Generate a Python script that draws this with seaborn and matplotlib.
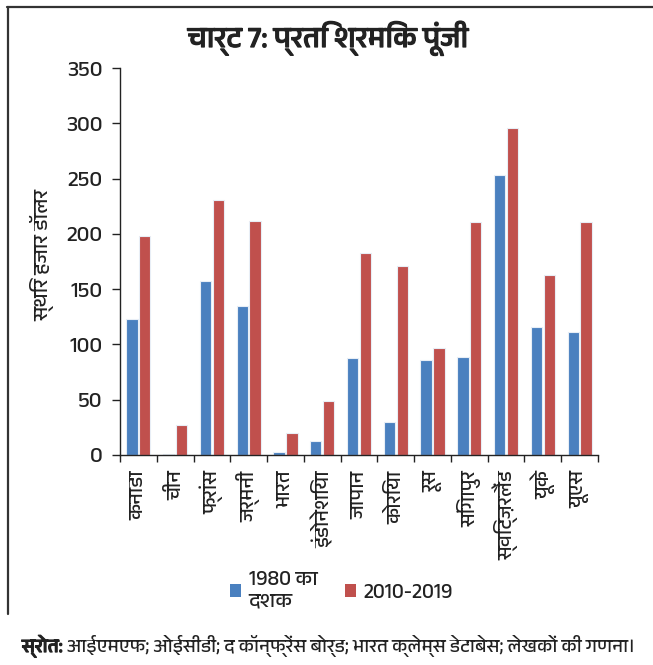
import matplotlib
matplotlib.use("Agg")
import matplotlib.pyplot as plt
from matplotlib import font_manager
from matplotlib.patches import Patch
from matplotlib.lines import Line2D
import matplotlib.patheffects as pe
import seaborn as sns
import pandas as pd
import numpy as np

countries = ['कनाडा', 'चीन', 'फ्रांस', 'जर्मनी', 'भारत', 'इंडोनेशिया', 'जापान',
             'कोरिया', 'रूस', 'सिंगापुर', 'स्विट्ज़रलैंड', 'यूके', 'यूएस']
capital_1980s = [123, 1, 157, 135, 3, 13, 88, 30, 86, 89, 253, 116, 111]
capital_2010s = [198, 27, 231, 212, 20, 49, 183, 171, 97, 211, 296, 163, 211]
series_names = ['1980 का\nदशक', '2010-2019']
yticks = [0, 50, 100, 150, 200, 250, 300, 350]

title = 'चार्ट 7: प्रति श्रमिक पूंजी'
ylabel = 'स्थिर हजार डॉलर'
source_head = 'स्रोत:'
source_body = ' आईएमएफ; ओईसीडी; द कॉन्फ्रेंस बोर्ड; भारत क्लेम्स डेटाबेस; लेखकों की गणना।'

INK = '#222222'


def devanagari_family():
    """Pick an installed family that covers Devanagari glyphs."""
    try:
        from fontTools.ttLib import TTFont
    except Exception:
        TTFont = None
    best = None
    for f in font_manager.fontManager.ttflist:
        if 'devanagari' in f.name.lower():
            return f.name
    if TTFont is not None:
        for f in font_manager.fontManager.ttflist:
            try:
                cmap = TTFont(f.fname, fontNumber=0, lazy=True).getBestCmap()
            except Exception:
                continue
            if cmap and 0x0915 in cmap and 0x093F in cmap:
                best = f.name
                if 'noto' in f.name.lower():
                    return best
    return best or 'Noto Sans'


sns.set_theme(style='white')
fam = devanagari_family()
plt.rcParams['font.family'] = [fam, 'DejaVu Sans']

# stroke effect to thicken headings
heavy = [pe.withStroke(linewidth=0.9, foreground=INK)]

df = pd.DataFrame({
    'country': countries * 2,
    'value': capital_1980s + capital_2010s,
    'period': [series_names[0]] * len(countries) + [series_names[1]] * len(countries),
})

fig = plt.figure(figsize=(6.53, 6.65), dpi=100)
ax = fig.add_axes([120 / 653, 1 - 455 / 665, (598 - 120) / 653, (455 - 68) / 665])

palette = {series_names[0]: '#4A80BF', series_names[1]: '#C0504D'}
sns.barplot(data=df, x='country', y='value', hue='period', palette=palette,
            width=0.70, gap=0.12, edgecolor='#e8eef6', linewidth=0.8,
            saturation=1, ax=ax, legend=False)

ax.set_ylim(0, 350)
ax.set_yticks(yticks)
ax.set_xlim(-0.5, len(countries) - 0.5)
ax.set_xlabel('')
ax.set_ylabel(ylabel, fontsize=15, color=INK)
ax.yaxis.set_label_coords(-(120 - 54) / 478, (455 - 255) / 387)
for s in ['top', 'right']:
    ax.spines[s].set_visible(False)
for s in ['left', 'bottom']:
    ax.spines[s].set_color(INK)
    ax.spines[s].set_linewidth(1.0)

ax.tick_params(axis='y', direction='out', length=5.5, width=1, color=INK,
               labelsize=16, labelcolor=INK, left=True, pad=7)
ax.set_xticks(range(len(countries)))
ax.set_xticklabels(countries, rotation=90, fontsize=14.5, color=INK)
ax.tick_params(axis='x', which='major', length=0, pad=11)
ax.set_xticks(np.arange(-0.5, len(countries), 1.0), minor=True)
ax.tick_params(axis='x', which='minor', direction='out', length=5, width=1,
               color=INK, bottom=True)

fig.text(328 / 653, 1 - 38 / 665, title, ha='center', va='center',
         fontsize=21, fontweight='bold', color=INK, path_effects=heavy)

handles = [Patch(facecolor=palette[n], edgecolor='none') for n in series_names]
fig.legend(handles, series_names, loc='upper left',
           bbox_to_anchor=(230 / 653, 1 - 570 / 665),
           ncol=2, frameon=False, fontsize=15, handlelength=0.55, handleheight=0.55,
           handletextpad=0.35, columnspacing=1.3, labelcolor=INK,
           borderaxespad=0, borderpad=0)

t1 = fig.text(22 / 653, 1 - 646 / 665, source_head, ha='left', va='center',
              fontsize=13.6, fontweight='bold', color=INK, path_effects=heavy)
fig.canvas.draw()
bb = t1.get_window_extent()
x2 = bb.x1 / fig.bbox.width
fig.text(x2, 1 - 646 / 665, source_body, ha='left', va='center',
         fontsize=13.6, color=INK)

fig.add_artist(Line2D([7 / 653, 1], [1 - 6.5 / 665, 1 - 6.5 / 665],
                      transform=fig.transFigure, color='#333333', lw=1.6))
fig.add_artist(Line2D([8 / 653, 8 / 653], [1 - 6.5 / 665, 1 - 614 / 665],
                      transform=fig.transFigure, color='#333333', lw=1.6))

fig.savefig('out.png', dpi=100, facecolor='white')
